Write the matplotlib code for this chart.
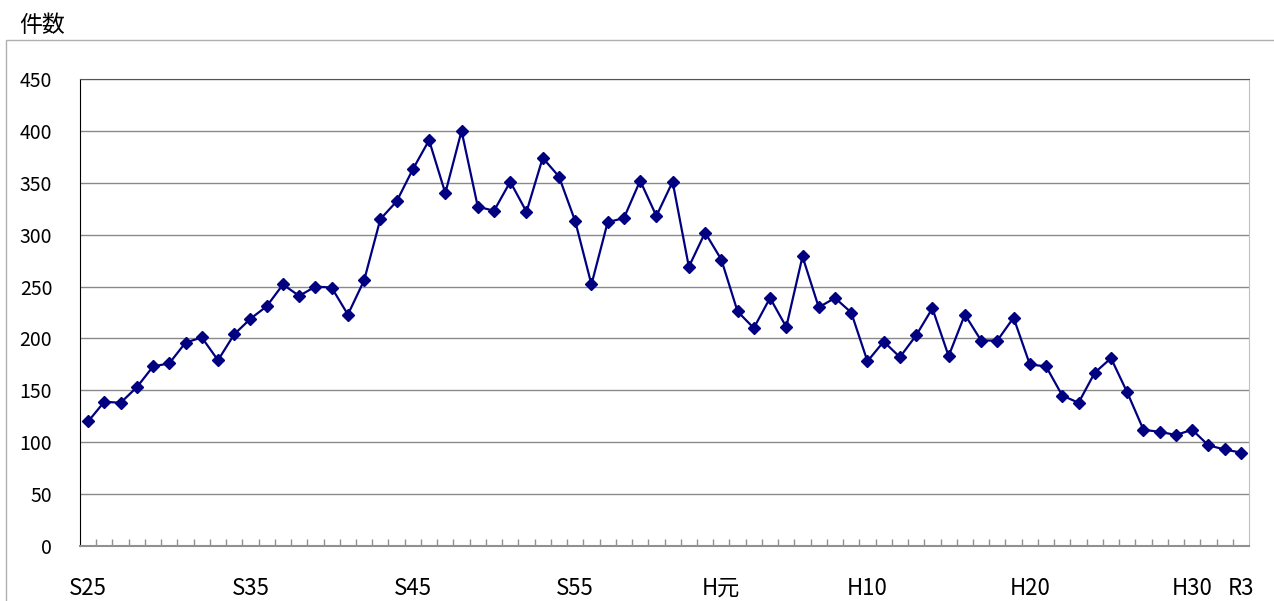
import numpy as np
import matplotlib
matplotlib.use("Agg")
import matplotlib.pyplot as plt
from matplotlib.patches import Rectangle

plt.rcParams["font.family"] = ["Noto Sans CJK JP", "DejaVu Sans"]

# yearly counts, S25 (1950) .. R3 (2021)
counts = [
    120, 139, 138, 153, 173, 176, 196, 201, 179, 204,
    219, 231, 252, 241, 250, 249, 223, 256, 315, 332,
    363, 391, 340, 400, 327, 323, 351, 322, 374, 356,
    313, 252, 312, 316, 352, 318, 351, 269, 302, 276,
    226, 210, 239, 211, 279, 230, 239, 225, 178, 197,
    182, 203, 229, 183, 223, 198, 198, 220, 175, 173,
    145, 138, 167, 181, 148, 112, 110, 107, 112, 97,
    93, 90,
]
label_pos = [0, 10, 20, 30, 39, 48, 58, 68, 71]
label_txt = ["S25", "S35", "S45", "S55", "H元", "H10", "H20", "H30", "R3"]
y_ticks = [0, 50, 100, 150, 200, 250, 300, 350, 400, 450]

W, H = 1274, 601
fig = plt.figure(figsize=(W / 100, H / 100), dpi=100)

# outer chart frame
fig.patches.append(Rectangle((6 / W, -0.05), 1.2, 1 - 40 / H + 0.05,
                             transform=fig.transFigure, fill=False,
                             edgecolor="#b0b0b0", linewidth=1))
fig.text(19 / W, 1 - 25 / H, "件数", fontsize=16.5, va="center", ha="left")

ax = fig.add_axes([80 / W, 1 - 546 / H, (1249 - 80) / W, (546 - 79) / H])

x = np.arange(len(counts))
ax.plot(x, counts, color="#000080", linewidth=1.6, marker="D",
        markersize=6.5, markerfacecolor="#000080", markeredgecolor="#000080",
        zorder=3)

ax.set_xlim(-0.5, len(counts) - 0.5)
ax.set_ylim(0, 450)
ax.set_yticks(y_ticks)
ax.set_yticklabels([str(v) for v in y_ticks], fontsize=14)
ax.tick_params(axis="y", length=0, pad=20)
ax.yaxis.grid(True, color="#8a8a8a", linewidth=1)
ax.set_axisbelow(True)

ax.set_xticks(label_pos)
ax.set_xticklabels(label_txt, fontsize=16)
ax.tick_params(axis="x", which="major", length=0, pad=22)
ax.set_xticks(np.arange(0.5, len(counts) - 1, 1), minor=True)
ax.tick_params(axis="x", which="minor", direction="in", length=5,
               width=1, color="#909090")

ax.spines["left"].set_color("black")
ax.spines["top"].set_color("#555555")
ax.spines["bottom"].set_color("#909090")
ax.spines["bottom"].set_linewidth(1.5)
ax.spines["right"].set_color("#c0c0c0")

fig.savefig("out.png", dpi=100)
